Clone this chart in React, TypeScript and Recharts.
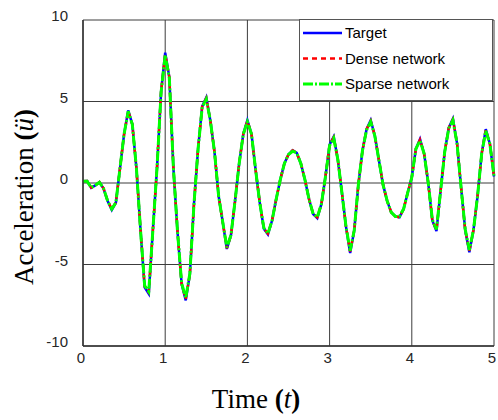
import { CartesianGrid, Line, LineChart, XAxis, YAxis } from "recharts"

// time axis (s)
const TIME = [
  0, 0.05, 0.1, 0.15, 0.2, 0.25, 0.3, 0.35, 0.4, 0.45,
  0.5, 0.55, 0.6, 0.65, 0.7, 0.75, 0.8, 0.85, 0.9, 0.95,
  1, 1.05, 1.1, 1.15, 1.2, 1.25, 1.3, 1.35, 1.4, 1.45,
  1.5, 1.55, 1.6, 1.65, 1.7, 1.75, 1.8, 1.85, 1.9, 1.95,
  2, 2.05, 2.1, 2.15, 2.2, 2.25, 2.3, 2.35, 2.4, 2.45,
  2.5, 2.55, 2.6, 2.65, 2.7, 2.75, 2.8, 2.85, 2.9, 2.95,
  3, 3.05, 3.1, 3.15, 3.2, 3.25, 3.3, 3.35, 3.4, 3.45,
  3.5, 3.55, 3.6, 3.65, 3.7, 3.75, 3.8, 3.85, 3.9, 3.95,
  4, 4.05, 4.1, 4.15, 4.2, 4.25, 4.3, 4.35, 4.4, 4.45,
  4.5, 4.55, 4.6, 4.65, 4.7, 4.75, 4.8, 4.85, 4.9, 4.95,
  5,
]

const TARGET = [
  0.1, 0.12, -0.3, -0.15, 0.05, -0.35, -1.1, -1.65, -1.2, 0.9,
  3.0, 4.45, 3.6, 0.9, -2.9, -6.4, -6.8, -2.9, 0.9, 5.6,
  8.0, 6.5, 0.9, -3.0, -6.2, -7.2, -5.6, -1.3, 2.1, 4.7,
  5.25, 3.8, 1.9, -0.8, -2.4, -4.05, -3.2, -1.1, 1.2, 3.0,
  3.85, 3.0, 0.8, -1.2, -2.8, -3.15, -2.3, -1.0, 0.2, 1.2,
  1.75, 2.0, 1.85, 1.2, 0.2, -1.0, -1.9, -2.15, -1.3, 0.4,
  2.35, 2.85, 1.45, -0.6, -2.7, -4.3, -2.9, -0.1, 2.0, 3.3,
  3.85, 2.9, 1.4, -0.1, -1.1, -1.8, -2.05, -2.1, -1.6, -0.6,
  0.35, 2.1, 2.7, 1.8, 0.0, -2.3, -2.95, -0.5, 1.9, 3.4,
  3.95, 2.45, -0.3, -2.9, -4.25, -2.9, -0.8, 1.8, 3.3, 2.4,
  0.4,
]

const DENSE = [
  0.1, 0.12, -0.28, -0.15, 0.05, -0.33, -1.1, -1.6, -1.2, 0.9,
  3.0, 4.4, 3.6, 0.9, -2.9, -6.35, -6.7, -2.9, 0.9, 5.6,
  7.9, 6.5, 0.9, -3.0, -6.2, -7.1, -5.6, -1.3, 2.1, 4.7,
  5.2, 3.8, 1.9, -0.8, -2.4, -4.0, -3.2, -1.1, 1.2, 3.0,
  3.8, 3.0, 0.8, -1.2, -2.8, -3.1, -2.3, -1.0, 0.2, 1.2,
  1.75, 2.0, 1.85, 1.2, 0.2, -1.0, -1.9, -2.1, -1.3, 0.4,
  2.35, 2.8, 1.45, -0.6, -2.7, -4.2, -2.9, -0.1, 2.0, 3.3,
  3.8, 2.9, 1.4, -0.1, -1.1, -1.8, -2.05, -2.1, -1.6, -0.6,
  0.35, 2.1, 2.65, 1.8, 0.0, -2.3, -2.9, -0.5, 1.9, 3.4,
  3.9, 2.45, -0.3, -2.9, -4.15, -2.9, -0.8, 1.8, 3.25, 2.4,
  0.4,
]

const SPARSE = [
  0.1, 0.1, -0.28, -0.14, 0.04, -0.33, -1.1, -1.6, -1.2, 0.9,
  3.0, 4.4, 3.6, 0.9, -2.9, -6.3, -6.65, -2.9, 0.9, 5.55,
  7.85, 6.45, 0.9, -3.0, -6.15, -7.05, -5.55, -1.3, 2.1, 4.65,
  5.15, 3.8, 1.9, -0.8, -2.4, -3.95, -3.2, -1.1, 1.2, 3.0,
  3.75, 3.0, 0.8, -1.2, -2.75, -3.1, -2.3, -1.0, 0.2, 1.2,
  1.75, 1.95, 1.85, 1.2, 0.2, -1.0, -1.9, -2.1, -1.3, 0.4,
  2.3, 2.75, 1.45, -0.6, -2.7, -4.15, -2.9, -0.1, 2.0, 3.25,
  3.75, 2.9, 1.4, -0.1, -1.1, -1.8, -2.05, -2.05, -1.6, -0.6,
  0.35, 2.1, 2.6, 1.8, 0.0, -2.25, -2.85, -0.5, 1.9, 3.35,
  3.85, 2.45, -0.3, -2.85, -4.1, -2.9, -0.8, 1.8, 3.2, 2.4,
  0.45,
]

const X_TICKS = [0, 1, 2, 3, 4, 5]
const Y_TICKS = [-10, -5, 0, 5, 10]

const SERIES = [
  { key: "target", name: "Target", color: "#0000ff", width: 2.5, dash: undefined },
  { key: "dense", name: "Dense network", color: "#ff0000", width: 2.5, dash: "5 4" },
  { key: "sparse", name: "Sparse network", color: "#00ff00", width: 3, dash: "10 2 2 2" },
]

const data = TIME.map((t, i) => ({ t, target: TARGET[i], dense: DENSE[i], sparse: SPARSE[i] }))

const tickStyle = { fill: "#262626", fontSize: 15, fontFamily: "Liberation Sans, Arial, sans-serif" }
const serif = "Liberation Serif, Times New Roman, serif"

export default function App() {
  return (
    <div style={{ position: "absolute", left: 0, top: 0, width: 498, height: 420, background: "#fff" }}>
      <LineChart width={498} height={420} data={data} margin={{ top: 20, right: 4, bottom: 0, left: 0 }}>
        <CartesianGrid stroke="#3c3c3c" strokeWidth={1} />
        <XAxis
          dataKey="t"
          type="number"
          domain={[0, 5]}
          ticks={X_TICKS}
          height={74}
          tickLine={false}
          tickSize={6}
          tickMargin={0}
          axisLine={{ stroke: "#333", strokeWidth: 1.5 }}
          tick={{ ...tickStyle, dx: -2 }}
        />
        <YAxis
          type="number"
          domain={[-10, 10]}
          ticks={Y_TICKS}
          width={83}
          tickLine={false}
          tickSize={6}
          tickMargin={9}
          axisLine={{ stroke: "#333", strokeWidth: 1.5 }}
          tick={{ ...tickStyle, dy: -4 }}
        />
        {SERIES.map((s) => (
          <Line
            key={s.key}
            dataKey={s.key}
            name={s.name}
            type="linear"
            stroke={s.color}
            strokeWidth={s.width}
            strokeDasharray={s.dash}
            dot={false}
            isAnimationActive={false}
          />
        ))}
      </LineChart>

      {/* axis titles */}
      <svg width={498} height={420} style={{ position: "absolute", left: 0, top: 0, pointerEvents: "none" }}>
        <text x={256} y={408} textAnchor="middle" fontFamily={serif} fontSize={27} fill="#000">
          Time <tspan fontWeight="bold">(</tspan>
          <tspan fontStyle="italic">t</tspan>
          <tspan fontWeight="bold">)</tspan>
        </text>
        <text
          x={0}
          y={0}
          transform="translate(33,197) rotate(-90)"
          textAnchor="middle"
          fontFamily={serif}
          fontSize={27}
          fill="#000"
        >
          Acceleration <tspan fontWeight="bold">(</tspan>
          <tspan fontStyle="italic">ü</tspan>
          <tspan fontWeight="bold">)</tspan>
        </text>
      </svg>

      {/* legend */}
      <svg width={194} height={82} style={{ position: "absolute", left: 299, top: 19 }}>
        <rect x={0.5} y={0.5} width={193} height={81} fill="#fff" stroke="#555" strokeWidth={1} />
        {SERIES.map((s, i) => {
          const cy = 14 + i * 25.5
          return (
            <g key={s.key}>
              <line x1={4} x2={43} y1={cy} y2={cy} stroke={s.color} strokeWidth={s.width} strokeDasharray={s.dash} />
              <text x={46} y={cy + 5} fontFamily="Liberation Sans, Arial, sans-serif" fontSize={15} fill="#000">
                {s.name}
              </text>
            </g>
          )
        })}
      </svg>
    </div>
  )
}
